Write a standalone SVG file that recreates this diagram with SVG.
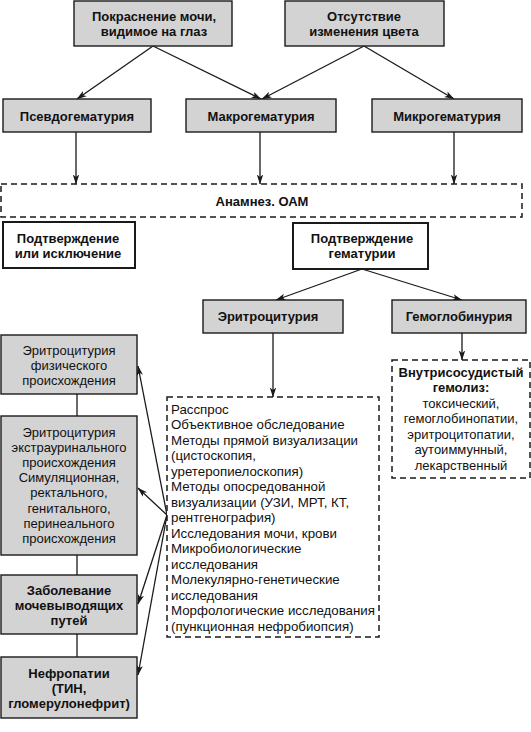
<svg xmlns="http://www.w3.org/2000/svg" width="531" height="732" viewBox="0 0 531 732">
<defs>
<marker id="ah" markerWidth="10" markerHeight="8" refX="9.5" refY="4" orient="auto" markerUnits="userSpaceOnUse">
<path d="M0,0.8 L10,4 L0,7.2 L2.5,4 z" fill="#1a1a1a"/>
</marker>
<style>
.g{fill:#d3d3d3;stroke:#1a1a1a;stroke-width:1.4}
.w{fill:#fff;stroke:#1a1a1a;stroke-width:2}
.d{fill:#fff;stroke:#1a1a1a;stroke-width:1.5;stroke-dasharray:6 4}
.b{font-family:"Liberation Sans",Arial,sans-serif;font-size:13px;font-weight:bold;fill:#111;text-anchor:middle}
.n{font-family:"Liberation Sans",Arial,sans-serif;font-size:13px;fill:#111;text-anchor:middle}
.l{font-family:"Liberation Sans",Arial,sans-serif;font-size:13.3px;fill:#111}
.c{stroke:#1a1a1a;stroke-width:1.3;fill:none}
.a{stroke:#1a1a1a;stroke-width:1.3;fill:none;marker-end:url(#ah)}
</style>
</defs>
<rect width="531" height="732" fill="#fff"/>
<g id="connectors">
<line class="a" x1="153" y1="46" x2="77" y2="99"/>
<line class="a" x1="153" y1="46" x2="261" y2="99"/>
<line class="a" x1="364" y1="46" x2="262" y2="99"/>
<line class="a" x1="364" y1="46" x2="454" y2="99"/>
<line class="a" x1="76" y1="132" x2="76" y2="184"/>
<line class="a" x1="260" y1="132" x2="260" y2="184"/>
<line class="a" x1="454" y1="132" x2="454" y2="184"/>
<line class="a" x1="362" y1="269" x2="276" y2="300"/>
<line class="a" x1="362" y1="269" x2="462" y2="300"/>
<line class="a" x1="273" y1="333" x2="273" y2="397"/>
<line class="a" x1="462" y1="333" x2="462" y2="360"/>
<line class="c" x1="77" y1="394" x2="77" y2="416"/>
<line class="c" x1="77" y1="555" x2="77" y2="575"/>
<line class="c" x1="77" y1="634" x2="77" y2="657"/>
<line class="a" x1="167" y1="515" x2="138" y2="366"/>
<line class="a" x1="167" y1="515" x2="138" y2="488"/>
<line class="a" x1="167" y1="515" x2="138" y2="604"/>
<line class="a" x1="167" y1="515" x2="138" y2="675"/>
</g>
<g id="n-red">
<rect class="g" x="74" y="1" width="158" height="45"/>
<text class="b" x="154" y="20.5">Покраснение мочи,</text>
<text class="b" x="154" y="36">видимое на глаз</text>
</g>
<g id="n-nocolor">
<rect class="g" x="285" y="1" width="159" height="45"/>
<text class="b" x="364" y="20.5">Отсутствие</text>
<text class="b" x="364" y="36">изменения цвета</text>
</g>
<g id="n-pseudo">
<rect class="g" x="3" y="99" width="148" height="33"/>
<text class="b" x="77" y="120.5">Псевдогематурия</text>
</g>
<g id="n-macro">
<rect class="g" x="186" y="99" width="150" height="33"/>
<text class="b" x="261" y="120.5">Макрогематурия</text>
</g>
<g id="n-micro">
<rect class="g" x="372" y="99" width="150" height="33"/>
<text class="b" x="447" y="120.5">Микрогематурия</text>
</g>
<g id="n-anamnez">
<rect class="d" x="1" y="184" width="521" height="33"/>
<text class="b" x="262" y="205.5">Анамнез. ОАМ</text>
</g>
<g id="n-confirm1">
<rect class="w" x="3" y="222" width="132" height="46"/>
<text class="b" x="68" y="242.5">Подтверждение</text>
<text class="b" x="68" y="257.5">или исключение</text>
</g>
<g id="n-confirm2">
<rect class="w" x="293" y="223" width="135" height="46"/>
<text class="b" x="362" y="242.5">Подтверждение</text>
<text class="b" x="362" y="257.5">гематурии</text>
</g>
<g id="n-erythro">
<rect class="g" x="203" y="300" width="140" height="33"/>
<text class="b" x="268" y="321">Эритроцитурия</text>
</g>
<g id="n-hemoglob">
<rect class="g" x="392" y="300" width="134" height="33"/>
<text class="b" x="459" y="321">Гемоглобинурия</text>
</g>
<g id="n-hemolysis">
<rect class="d" x="392" y="360" width="138" height="118"/>
<text class="b" x="461" y="376.5">Внутрисосудистый</text>
<text class="b" x="461" y="392">гемолиз:</text>
<text class="n" x="461" y="407.5">токсический,</text>
<text class="n" x="461" y="423">гемоглобинопатии,</text>
<text class="n" x="461" y="438.5">эритроцитопатии,</text>
<text class="n" x="461" y="454">аутоиммунный,</text>
<text class="n" x="461" y="469.5">лекарственный</text>
</g>
<g id="n-methods">
<rect class="d" x="167" y="397" width="212" height="240"/>
<text class="l" x="171" y="413.8">Расспрос</text>
<text class="l" x="171" y="429.3">Объективное обследование</text>
<text class="l" x="171" y="444.8">Методы прямой визуализации</text>
<text class="l" x="171" y="460.3">(цистоскопия,</text>
<text class="l" x="171" y="475.8">уретеропиелоскопия)</text>
<text class="l" x="171" y="491.3">Методы опосредованной</text>
<text class="l" x="171" y="506.8">визуализации (УЗИ, МРТ, КТ,</text>
<text class="l" x="171" y="522.3">рентгенография)</text>
<text class="l" x="171" y="537.8">Исследования мочи, крови</text>
<text class="l" x="171" y="553.3">Микробиологические</text>
<text class="l" x="171" y="568.8">исследования</text>
<text class="l" x="171" y="584.3">Молекулярно-генетические</text>
<text class="l" x="171" y="599.8">исследования</text>
<text class="l" x="171" y="615.3">Морфологические исследования</text>
<text class="l" x="171" y="630.8">(пункционная нефробиопсия)</text>
</g>
<g id="n-physical">
<rect class="g" x="1" y="335" width="136" height="59"/>
<text class="n" x="69" y="354.5">Эритроцитурия</text>
<text class="n" x="69" y="369.5">физического</text>
<text class="n" x="69" y="384.5">происхождения</text>
</g>
<g id="n-extra">
<rect class="g" x="1" y="416" width="136" height="139"/>
<text class="n" x="69" y="436.5">Эритроцитурия</text>
<text class="n" x="69" y="451.7">экстрауринального</text>
<text class="n" x="69" y="466.9">происхождения</text>
<text class="n" x="69" y="482.1">Симуляционная,</text>
<text class="n" x="69" y="497.3">ректального,</text>
<text class="n" x="69" y="512.5">генитального,</text>
<text class="n" x="69" y="527.7">перинеального</text>
<text class="n" x="69" y="542.9">происхождения</text>
</g>
<g id="n-urinary">
<rect class="g" x="1" y="575" width="136" height="59"/>
<text class="b" x="69" y="594.5">Заболевание</text>
<text class="b" x="69" y="609.5">мочевыводящих</text>
<text class="b" x="69" y="624.5">путей</text>
</g>
<g id="n-nephro">
<rect class="g" x="1" y="657" width="136" height="61"/>
<text class="b" x="69" y="677.5">Нефропатии</text>
<text class="b" x="69" y="692.5">(ТИН,</text>
<text class="b" x="69" y="707.5">гломерулонефрит)</text>
</g>
</svg>
